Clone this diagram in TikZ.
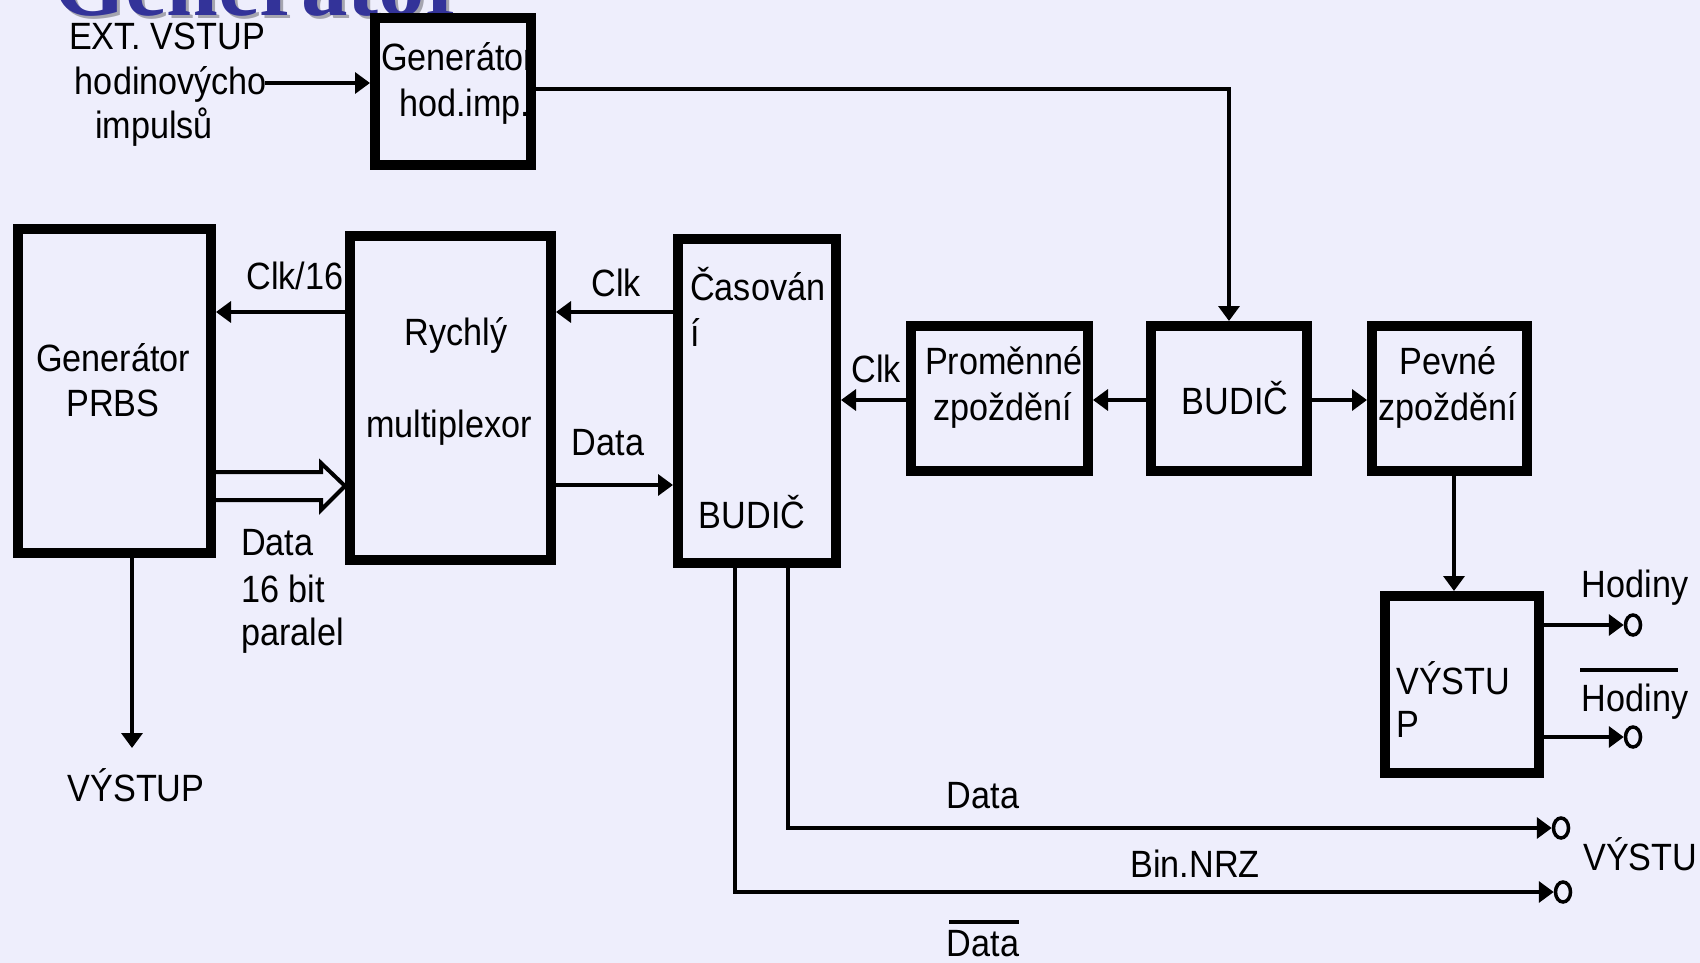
\documentclass[tikz,border=0pt]{standalone}
\usepackage{fontspec}
\setmainfont{Liberation Sans}[FakeStretch=0.9]
\newfontfamily\titlefont{Liberation Serif}
\usetikzlibrary{arrows.meta,shapes.geometric}
\definecolor{bg}{RGB}{238,238,252}
\definecolor{titleblue}{RGB}{51,51,153}
\definecolor{shadowgray}{RGB}{165,165,175}
\begin{document}
\begin{tikzpicture}[x=1pt,y=-1pt,
  box/.style={draw=black,line width=10pt,inner sep=0pt,outer sep=5pt},
  conn/.style={draw=black,line width=3.5pt},
  arr/.style={conn,-{Triangle[length=15pt,width=21pt]}},
  term/.style={ellipse,draw=black,line width=3.5pt,minimum width=15pt,minimum height=20pt,inner sep=0pt,outer sep=1.75pt},
  txt/.style={font=\fontsize{38}{45}\selectfont,inner sep=0pt,anchor=base,yshift=-13.5pt},
  txtl/.style={txt,anchor=base west},
  bar/.style={draw=black,line width=4pt}]
\useasboundingbox (0,0) rectangle (1700,963);
\fill[bg] (0,0) rectangle (1700,963);
% title (clipped at top)
\begin{scope}
\clip (0,0) rectangle (1700,963);
\node[font=\titlefont\bfseries\fontsize{93}{93}\selectfont,text=shadowgray,inner sep=0pt,anchor=base west] (titleshadow) at (56,19) {Generator};
\node[font=\titlefont\bfseries\fontsize{93}{93}\selectfont,text=titleblue,inner sep=0pt,anchor=base west] (title) at (53,16) {Generator};
\end{scope}
% texts
\node[txt] (ext) at (167,36) {EXT. VSTUP};
\node[txt] (hod) at (171,81) {hodinovýcho};
\node[txt] (imp) at (154,125) {impulsů};
\node[txtl] (ghA) at (381,57) {Generátor};
\node[txtl] (ghB) at (399,103) {hod.imp.};
\node[txt] (prbsA) at (113,358) {Generátor};
\node[txt] (prbsB) at (113,403) {PRBS};
\node[txt] (muxA) at (456,332) {Rychlý};
\node[txt] (muxB) at (449,424) {multiplexor};
\node[txtl] (casA) at (690,287) {Časován};
\node[txtl] (casB) at (690,333) {í};
\node[txt] (casC) at (752,515) {BUDIČ};
\node[txt] (promA) at (1004,361) {Proměnné};
\node[txt] (promB) at (1003,407) {zpoždění};
\node[txt] (budA) at (1235,401) {BUDIČ};
\node[txt] (pevA) at (1448,361) {Pevné};
\node[txt] (pevB) at (1448,407) {zpoždění};
\node[txtl] (vysA) at (1396,681) {VÝSTU};
\node[txtl] (vysB) at (1396,724) {P};
\node[txt] (clk16) at (295,276) {Clk/16};
\node[txt] (clkA) at (616,283) {Clk};
\node[txt] (dataA) at (608,442) {Data};
\node[txtl] (busA) at (241,542) {Data};
\node[txtl] (busB) at (241,589) {16 bit};
\node[txtl] (busC) at (241,632) {paralel};
\node[txt] (out1) at (136,788) {VÝSTUP};
\node[txt] (clkB) at (876,369) {Clk};
\node[txt] (hodA) at (1635,584) {Hodiny};
\node[txt] (hodB) at (1635,698) {Hodiny};
\node[txt] (dataB) at (983,795) {Data};
\node[txt] (nrz) at (1195,864) {Bin.NRZ};
\node[txt] (dataC) at (983,943) {Data};
\node[txtl] (out2) at (1583,857) {VÝSTU};
\draw[bar] (1580,670) -- (1678,670);
\draw[bar] (949,922) -- (1019,922);
% boxes
\node[box,minimum width=156pt,minimum height=147pt] (gh) at (453,91.5) {};
\node[box,minimum width=193pt,minimum height=324pt] (prbs) at (114.5,391) {};
\node[box,minimum width=201pt,minimum height=324pt] (mux) at (450.5,398) {};
\node[box,minimum width=158pt,minimum height=324pt] (cas) at (757,401) {};
\node[box,minimum width=177pt,minimum height=145pt] (prom) at (999.5,398.5) {};
\node[box,minimum width=156pt,minimum height=145pt] (bud) at (1229,398.5) {};
\node[box,minimum width=155pt,minimum height=145pt] (pev) at (1449.5,398.5) {};
\node[box,minimum width=154pt,minimum height=177pt] (vys) at (1462,684.5) {};
% terminals
\node[term] (t1) at (1633,625) {};
\node[term] (t2) at (1633,737) {};
\node[term] (t3) at (1561,828) {};
\node[term] (t4) at (1563,892) {};
\coordinate (prbsout) at (132,748);
% connectors
\draw[arr] (265,83) -- (gh.west |- 0,83);
\draw[arr] (gh.east |- 0,89) -| (bud.north);
\draw[arr] (mux.west |- 0,312) -- (prbs.east |- 0,312);
\draw[arr] (cas.west |- 0,312) -- (mux.east |- 0,312);
\draw[arr] (mux.east |- 0,485) -- (cas.west |- 0,485);
\draw[arr] (prom.west |- 0,400) -- (cas.east |- 0,400);
\draw[arr] (bud.west |- 0,400) -- (prom.east |- 0,400);
\draw[arr] (bud.east |- 0,400) -- (pev.west |- 0,400);
\draw[arr] (1454,0 |- pev.south) -- (1454,0 |- vys.north);
\draw[arr] (prbs.south -| prbsout) -- (prbsout);
\draw[arr] (vys.east |- t1) -- (t1.west);
\draw[arr] (vys.east |- t2) -- (t2.west);
\draw[arr] (cas.south -| 788,0) |- (t3.west);
\draw[arr] (cas.south -| 735,0) |- (t4.west);
% bus arrow
\draw[draw=black,line width=4pt,line join=miter] (prbs.east |- 0,472) -- (321,472) -- (321,463) -- (mux.west |- 0,486) -- (321,510) -- (321,500) -- (prbs.east |- 0,500);
\end{tikzpicture}
\end{document}
